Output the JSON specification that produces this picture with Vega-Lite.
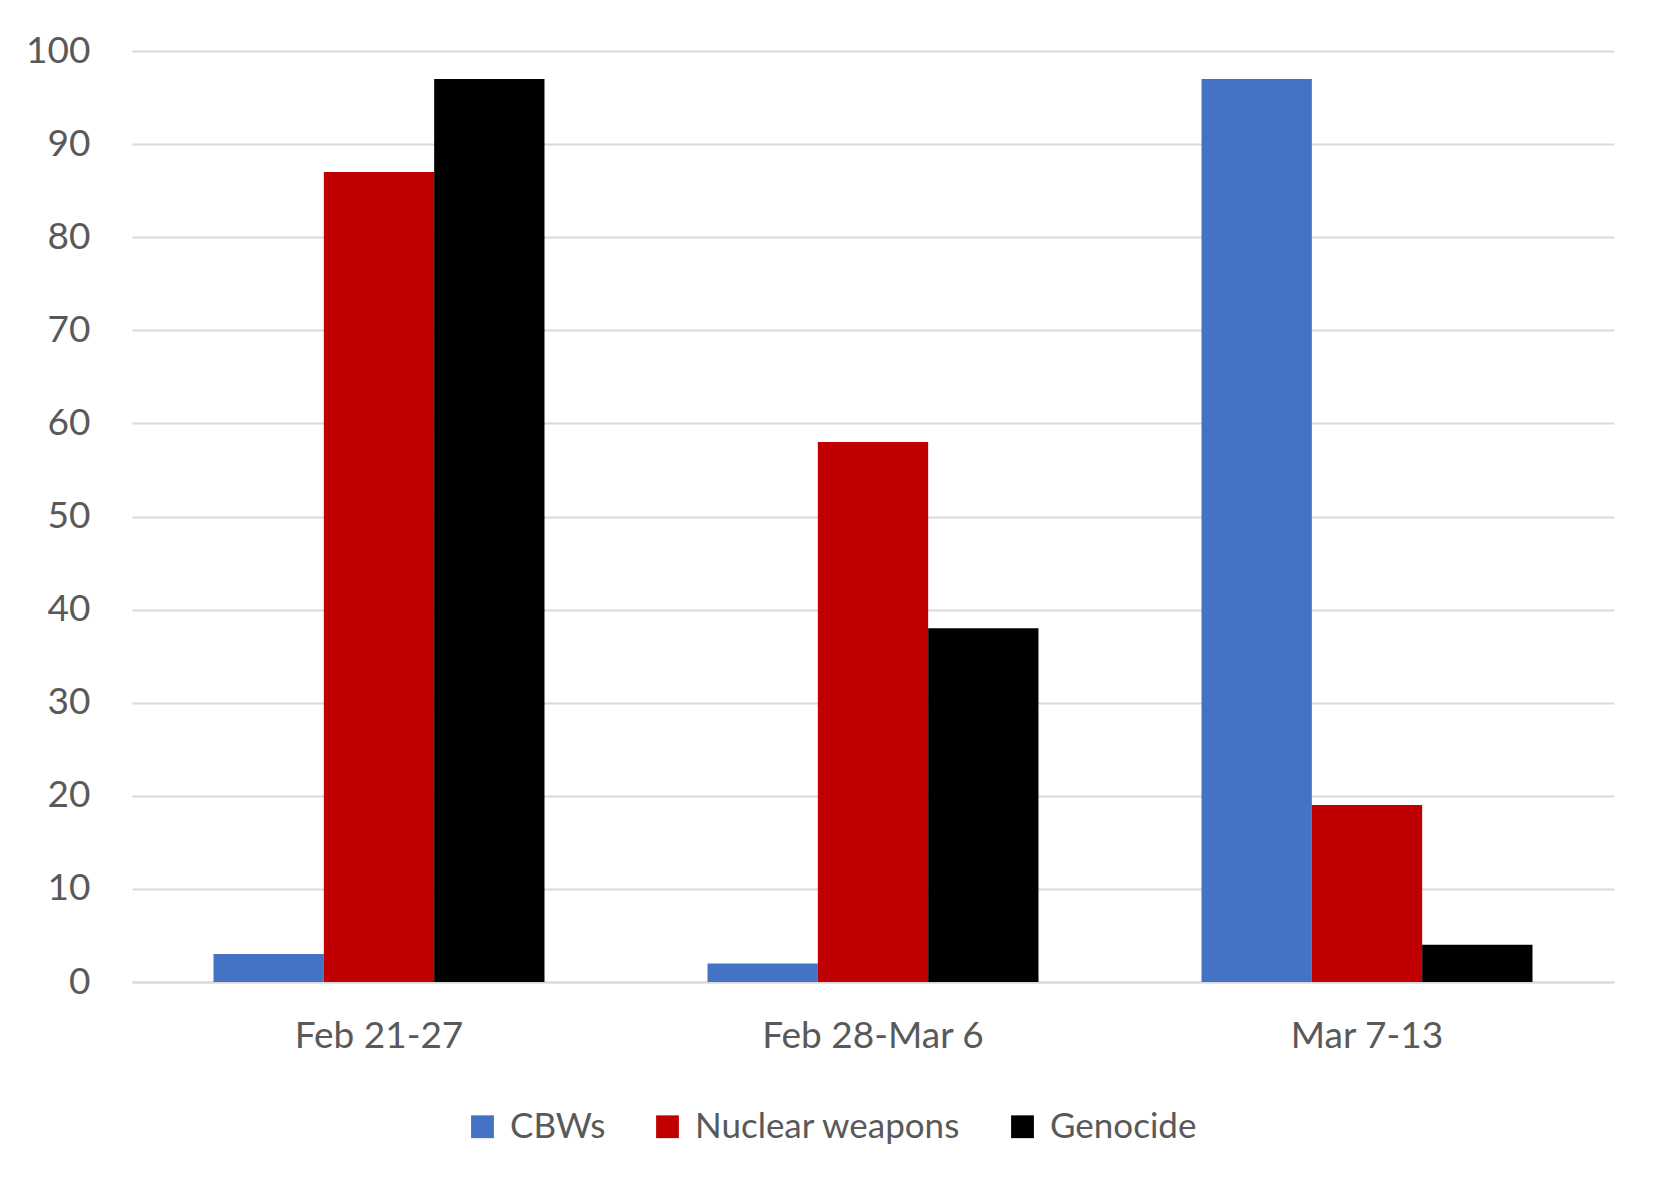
{
  "$schema": "https://vega.github.io/schema/vega-lite/v6.json",
  "autosize": {"type": "none"},
  "width": 1482,
  "height": 931,
  "padding": {"left": 132, "top": 51, "right": 52, "bottom": 213},
  "background": "white",
  "config": {
    "font": "Lato",
    "view": {"stroke": null}
  },
  "data": {
    "values": [
      {"week": "Feb 21-27", "topic": "CBWs", "mentions": 3},
      {"week": "Feb 21-27", "topic": "Nuclear weapons", "mentions": 87},
      {"week": "Feb 21-27", "topic": "Genocide", "mentions": 97},
      {"week": "Feb 28-Mar 6", "topic": "CBWs", "mentions": 2},
      {"week": "Feb 28-Mar 6", "topic": "Nuclear weapons", "mentions": 58},
      {"week": "Feb 28-Mar 6", "topic": "Genocide", "mentions": 38},
      {"week": "Mar 7-13", "topic": "CBWs", "mentions": 97},
      {"week": "Mar 7-13", "topic": "Nuclear weapons", "mentions": 19},
      {"week": "Mar 7-13", "topic": "Genocide", "mentions": 4}
    ]
  },
  "mark": {"type": "bar"},
  "encoding": {
    "x": {
      "field": "week",
      "type": "nominal",
      "sort": null,
      "title": null,
      "scale": {"paddingInner": 0.33, "paddingOuter": 0.165},
      "axis": {
        "labelAngle": 0,
        "labelFont": "Lato",
        "labelFontSize": 37,
        "labelColor": "#595959",
        "labelPadding": 36,
        "labelLimit": 0,
        "ticks": false,
        "domainColor": "#d9d9d9",
        "domainWidth": 2
      }
    },
    "xOffset": {
      "field": "topic",
      "type": "nominal",
      "sort": ["CBWs", "Nuclear weapons", "Genocide"],
      "scale": {"paddingInner": 0, "paddingOuter": 0}
    },
    "y": {
      "field": "mentions",
      "type": "quantitative",
      "title": null,
      "scale": {"domain": [0, 100], "nice": false},
      "axis": {
        "values": [0, 10, 20, 30, 40, 50, 60, 70, 80, 90, 100],
        "domain": false,
        "ticks": false,
        "labelFont": "Lato",
        "labelFontSize": 37,
        "labelColor": "#595959",
        "labelPadding": 42,
        "gridColor": "#d9d9d9",
        "gridWidth": 2
      }
    },
    "color": {
      "field": "topic",
      "type": "nominal",
      "sort": ["CBWs", "Nuclear weapons", "Genocide"],
      "scale": {
        "domain": ["CBWs", "Nuclear weapons", "Genocide"],
        "range": ["#4472c4", "#c00000", "#000000"]
      },
      "legend": {
        "title": null,
        "orient": "none",
        "legendX": 333,
        "legendY": 1058,
        "direction": "horizontal",
        "symbolType": "square",
        "symbolSize": 520,
        "symbolStrokeWidth": 0,
        "labelFont": "Lato",
        "labelFontSize": 35,
        "labelColor": "#595959",
        "labelOffset": 10,
        "labelLimit": 0,
        "columnPadding": 44
      }
    }
  }
}
